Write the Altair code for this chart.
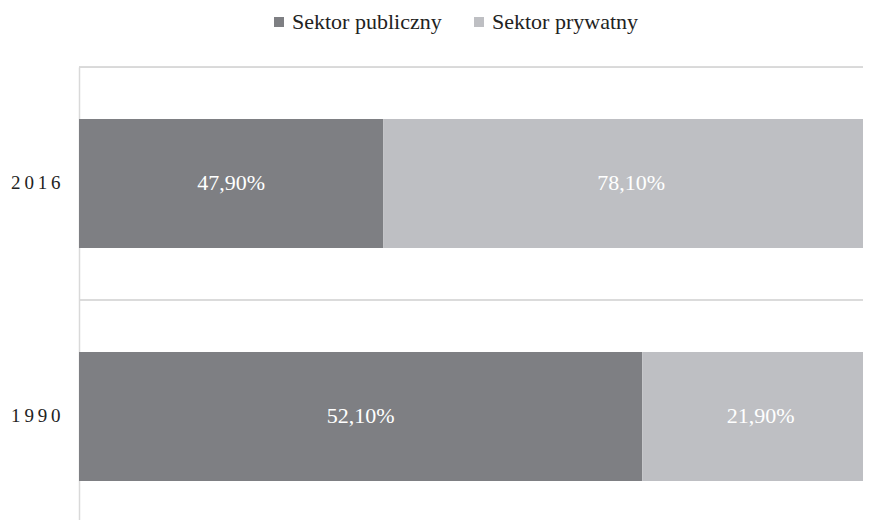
import altair as alt
import pandas as pd

years = ["2016", "1990"]
series = ["Sektor publiczny", "Sektor prywatny"]
public_vals = [47.90, 52.10]
private_vals = [78.10, 21.90]
colors = ["#7e7f83", "#bebfc3"]

rows = []
for i, y in enumerate(years):
    for j, (s, v) in enumerate(zip(series, [public_vals[i], private_vals[i]])):
        rows.append({"year": y, "series": s, "value": v, "order": j,
                     "label": f"{v:.2f}".replace(".", ",") + "%"})
df = pd.DataFrame(rows)

FONT = "Liberation Serif"

base = alt.Chart(df).transform_stack(
    stack="value", as_=["x0", "x1"], groupby=["year"], offset="normalize",
    sort=[alt.SortField("order", order="ascending")]
).transform_calculate(mid="(datum.x0 + datum.x1) / 2", g0="0", g1="1")

yscale = alt.Scale(paddingInner=0.446, paddingOuter=0.195, align=0.571)
yenc = alt.Y("year:N", sort=years, title=None, scale=yscale,
             axis=alt.Axis(grid=False,
                           domainColor="#d9d9d9", domainWidth=1.5, ticks=False,
                           labelFont=FONT, labelFontSize=19, labelColor="#222222",
                           labelPadding=19,
                           labelExpr="join(split(datum.label, ''), '\u2009')"))
xscale = alt.Scale(domain=[0, 0.98], clamp=True, nice=False, zero=False)

grid = base.mark_rule(color="#d9d9d9", strokeWidth=1.5, yOffset=-52).encode(
    y=alt.Y("year:N", sort=years, bandPosition=0),
    x=alt.X("g0:Q", scale=xscale, axis=None),
    x2="g1:Q",
)

bars = base.mark_bar(cornerRadius=0).encode(
    x=alt.X("x0:Q", scale=xscale, axis=None),
    x2="x1:Q",
    y=yenc,
    color=alt.Color("series:N", sort=series,
                    scale=alt.Scale(domain=series, range=colors),
                    legend=alt.Legend(title=None, orient="none", direction="horizontal",
                                      legendX=189, legendY=-56, padding=0,
                                      symbolType="square", symbolSize=100,
                                      symbolStrokeWidth=0, labelOffset=2,
                                      columnPadding=26, labelFont=FONT,
                                      labelFontSize=22, labelColor="#222222")),
)

texts = base.mark_text(font=FONT, fontSize=22, color="white", align="center",
                       baseline="middle").encode(
    x=alt.X("mid:Q", scale=xscale, axis=None),
    y=alt.Y("year:N", sort=years),
    text="label:N",
)

chart = alt.layer(grid, bars, texts).properties(
    width=784, height=453,
    autosize=alt.AutoSizeParams(type="none"),
    padding={"left": 71, "top": 59, "right": 0, "bottom": 0},
).configure_view(stroke=None).configure(background="white", font=FONT)

chart.save("out.html", embed_options={"renderer": "svg", "actions": False})
